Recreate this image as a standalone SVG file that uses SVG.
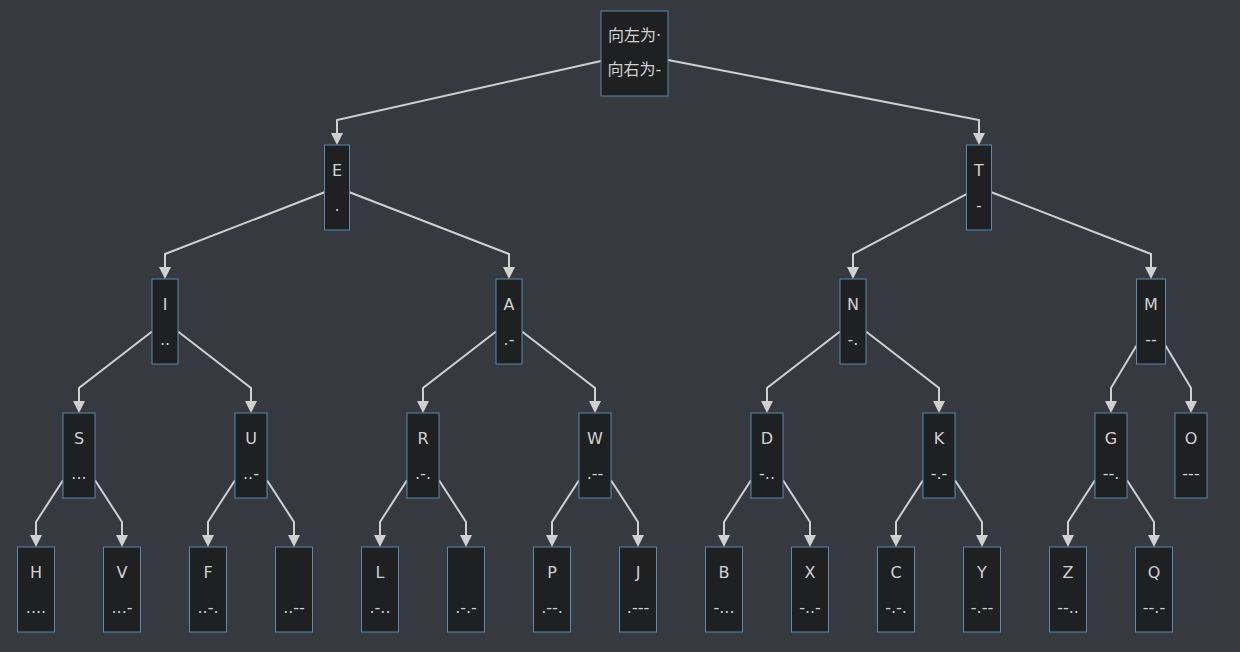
<svg xmlns="http://www.w3.org/2000/svg" width="1240" height="652" viewBox="0 0 1240 652">
<style>
.bg{fill:#363a40}
.n rect{fill:#1f2021;stroke:#5d87ab;stroke-width:1}
.n text{fill:#d2d2d2;font-family:"DejaVu Sans","Noto Sans CJK SC",sans-serif;font-size:16px;text-anchor:middle}
.e path{fill:none;stroke:#d0d0d0;stroke-width:2;marker-end:url(#ah)}
</style>
<defs>
<marker id="ah" markerUnits="userSpaceOnUse" markerWidth="12" markerHeight="12" refX="0" refY="6" orient="auto" viewBox="0 0 12 12">
<path d="M0,0 L12,6 L0,12 z" fill="#d0d0d0"/>
</marker>
</defs>
<rect class="bg" x="0" y="0" width="1240" height="652"/>
<g class="e" id="connectors">
<path d="M601,61 L337,120 L337,133"/>
<path d="M668,60 L979,120 L979,133"/>
<path d="M324.5,192.3 L165,254 L165,267"/>
<path d="M349.5,192.3 L509,254 L509,267"/>
<path d="M966.5,194.1 L853,254 L853,267"/>
<path d="M991.5,192.3 L1151,254 L1151,267"/>
<path d="M152,331.5 L79,388 L79,401"/>
<path d="M178,331.5 L251,388 L251,401"/>
<path d="M496,331.5 L423,388 L423,401"/>
<path d="M522,331.5 L595,388 L595,401"/>
<path d="M840,331.5 L767,388 L767,401"/>
<path d="M866,331.5 L939,388 L939,401"/>
<path d="M1136.5,345.6 L1111,388 L1111,401"/>
<path d="M1165.5,345.6 L1191,388 L1191,401"/>
<path d="M63,480.2 L36,522 L36,535"/>
<path d="M95,480.2 L122,522 L122,535"/>
<path d="M235,480.2 L208,522 L208,535"/>
<path d="M267,480.2 L294,522 L294,535"/>
<path d="M407,480.2 L380,522 L380,535"/>
<path d="M439,480.2 L466,522 L466,535"/>
<path d="M579,480.2 L552,522 L552,535"/>
<path d="M611,480.2 L638,522 L638,535"/>
<path d="M751,480.2 L724,522 L724,535"/>
<path d="M783,480.2 L810,522 L810,535"/>
<path d="M923,480.2 L896,522 L896,535"/>
<path d="M955,480.2 L982,522 L982,535"/>
<path d="M1095,480.2 L1068,522 L1068,535"/>
<path d="M1127,480.2 L1154,522 L1154,535"/>
</g>
<g class="n" id="root"><rect x="601" y="11" width="67" height="85"/><text x="634.5" y="41">向左为·</text><text x="634.5" y="75">向右为-</text></g>
<g class="n" id="E"><rect x="324.5" y="145" width="25" height="85"/><text x="337" y="176">E</text><text x="337" y="211">.</text></g>
<g class="n" id="T"><rect x="966.5" y="145" width="25" height="85"/><text x="979" y="176">T</text><text x="979" y="211">-</text></g>
<g class="n" id="I"><rect x="152" y="279" width="26" height="85"/><text x="165" y="310">I</text><text x="165" y="345">..</text></g>
<g class="n" id="A"><rect x="496" y="279" width="26" height="85"/><text x="509" y="310">A</text><text x="509" y="345">.-</text></g>
<g class="n" id="N"><rect x="840" y="279" width="26" height="85"/><text x="853" y="310">N</text><text x="853" y="345">-.</text></g>
<g class="n" id="M"><rect x="1136.5" y="279" width="29" height="85"/><text x="1151" y="310">M</text><text x="1151" y="345">--</text></g>
<g class="n" id="S"><rect x="63" y="413" width="32" height="85"/><text x="79" y="444">S</text><text x="79" y="479">...</text></g>
<g class="n" id="U"><rect x="235" y="413" width="32" height="85"/><text x="251" y="444">U</text><text x="251" y="479">..-</text></g>
<g class="n" id="R"><rect x="407" y="413" width="32" height="85"/><text x="423" y="444">R</text><text x="423" y="479">.-.</text></g>
<g class="n" id="W"><rect x="579" y="413" width="32" height="85"/><text x="595" y="444">W</text><text x="595" y="479">.--</text></g>
<g class="n" id="D"><rect x="751" y="413" width="32" height="85"/><text x="767" y="444">D</text><text x="767" y="479">-..</text></g>
<g class="n" id="K"><rect x="923" y="413" width="32" height="85"/><text x="939" y="444">K</text><text x="939" y="479">-.-</text></g>
<g class="n" id="G"><rect x="1095" y="413" width="32" height="85"/><text x="1111" y="444">G</text><text x="1111" y="479">--.</text></g>
<g class="n" id="O"><rect x="1175" y="413" width="32" height="85"/><text x="1191" y="444">O</text><text x="1191" y="479">---</text></g>
<g class="n" id="H"><rect x="17.5" y="547" width="37" height="85"/><text x="36" y="578">H</text><text x="36" y="613">....</text></g>
<g class="n" id="V"><rect x="103.5" y="547" width="37" height="85"/><text x="122" y="578">V</text><text x="122" y="613">...-</text></g>
<g class="n" id="F"><rect x="189.5" y="547" width="37" height="85"/><text x="208" y="578">F</text><text x="208" y="613">..-.</text></g>
<g class="n" id="n_UD"><rect x="275.5" y="547" width="37" height="85"/><text x="294" y="613">..--</text></g>
<g class="n" id="L"><rect x="361.5" y="547" width="37" height="85"/><text x="380" y="578">L</text><text x="380" y="613">.-..</text></g>
<g class="n" id="n_RD"><rect x="447.5" y="547" width="37" height="85"/><text x="466" y="613">.-.-</text></g>
<g class="n" id="P"><rect x="533.5" y="547" width="37" height="85"/><text x="552" y="578">P</text><text x="552" y="613">.--.</text></g>
<g class="n" id="J"><rect x="619.5" y="547" width="37" height="85"/><text x="638" y="578">J</text><text x="638" y="613">.---</text></g>
<g class="n" id="B"><rect x="705.5" y="547" width="37" height="85"/><text x="724" y="578">B</text><text x="724" y="613">-...</text></g>
<g class="n" id="X"><rect x="791.5" y="547" width="37" height="85"/><text x="810" y="578">X</text><text x="810" y="613">-..-</text></g>
<g class="n" id="C"><rect x="877.5" y="547" width="37" height="85"/><text x="896" y="578">C</text><text x="896" y="613">-.-.</text></g>
<g class="n" id="Y"><rect x="963.5" y="547" width="37" height="85"/><text x="982" y="578">Y</text><text x="982" y="613">-.--</text></g>
<g class="n" id="Z"><rect x="1049.5" y="547" width="37" height="85"/><text x="1068" y="578">Z</text><text x="1068" y="613">--..</text></g>
<g class="n" id="Q"><rect x="1135.5" y="547" width="37" height="85"/><text x="1154" y="578">Q</text><text x="1154" y="613">--.-</text></g>
</svg>
